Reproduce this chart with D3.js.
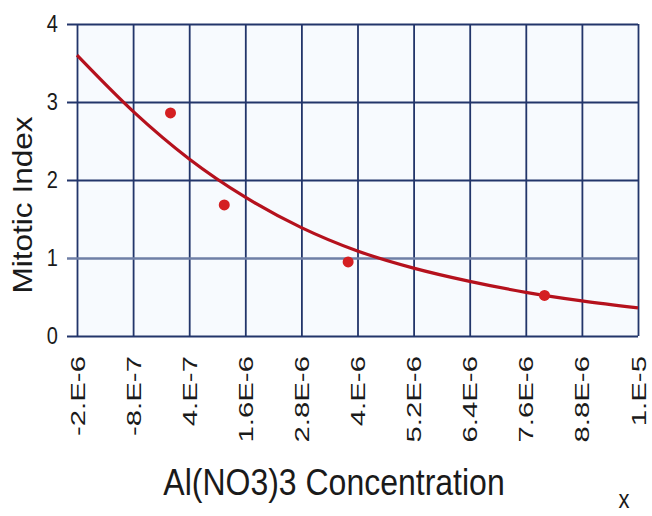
<!DOCTYPE html>
<html>
<head>
<meta charset="utf-8">
<script src="https://cdn.jsdelivr.net/npm/d3@7"></script>
<style>
  body { margin: 0; background: #fff; }
  text { font-family: "Liberation Sans", Arial, sans-serif; fill: #1a1a1a; }
</style>
</head>
<body>
<script>
const width = 652;
const height = 516;

// axis ticks
const xTicks = [-2e-6, -8e-7, 4e-7, 1.6e-6, 2.8e-6, 4e-6, 5.2e-6, 6.4e-6, 7.6e-6, 8.8e-6, 1e-5];
const xTickLabels = ['-2.E-6', '-8.E-7', '4.E-7', '1.6E-6', '2.8E-6', '4.E-6', '5.2E-6', '6.4E-6', '7.6E-6', '8.8E-6', '1.E-5'];
const yTicks = [0, 1, 2, 3, 4];

// measured points
const concentration = [0, 1.15e-6, 3.8e-6, 8e-6];
const mitoticIndex = [2.86, 1.68, 0.95, 0.52];

// trend line, read at each grid line
const fitX = xTicks;
const fitY = [3.60, 2.88, 2.27, 1.78, 1.39, 1.09, 0.87, 0.70, 0.56, 0.45, 0.36];

const plotL = 77, plotR = 638, plotT = 24, plotB = 336;

const svg = d3.select('body')
  .append('svg')
  .attr('width', width)
  .attr('height', height);

const x = d3.scaleLinear().domain([-2e-6, 1e-5]).range([plotL, plotR]);
const y = d3.scaleLinear().domain([0, 4]).range([plotB, plotT]);

// plot background
svg.append('rect')
  .attr('x', plotL)
  .attr('y', plotT)
  .attr('width', plotR - plotL)
  .attr('height', plotB - plotT)
  .attr('fill', '#f7fafe');

// vertical grid
svg.append('g')
  .attr('transform', `translate(0,${plotB})`)
  .call(d3.axisBottom(x).tickValues(xTicks).tickSize(-(plotB - plotT)).tickFormat(''))
  .call(g => g.select('.domain').remove())
  .call(g => g.selectAll('line').attr('stroke', '#22356a').attr('stroke-width', 1.8));

// horizontal grid, sticking out left as ticks
svg.append('g')
  .attr('transform', `translate(${plotR},0)`)
  .call(d3.axisLeft(y).tickValues(yTicks).tickSize(plotR - plotL + 10).tickFormat(''))
  .call(g => g.select('.domain').remove())
  .call(g => g.selectAll('line')
    .attr('stroke', d => d === 1 ? '#6f7fa6' : '#22356a')
    .attr('stroke-width', d => d === 1 ? 2.6 : 1.8));

// y tick labels
svg.append('g')
  .selectAll('text')
  .data(yTicks)
  .enter()
  .append('text')
  .attr('transform', d => `translate(58,${y(d)}) scale(1,1.17)`)
  .attr('dy', '0.36em')
  .attr('text-anchor', 'end')
  .attr('font-size', 20)
  .text(d => d);

// x tick labels (rotated)
svg.append('g')
  .selectAll('text')
  .data(xTicks)
  .enter()
  .append('text')
  .attr('transform', d => `translate(${x(d)},356) rotate(-90) scale(1.4,1)`)
  .attr('dy', '0.36em')
  .attr('text-anchor', 'end')
  .attr('font-size', 21)
  .text((d, i) => xTickLabels[i]);

// trend line
const line = d3.line()
  .x(d => x(d[0]))
  .y(d => y(d[1]))
  .curve(d3.curveMonotoneX);

svg.append('path')
  .datum(fitX.map((d, i) => [d, fitY[i]]))
  .attr('d', line)
  .attr('fill', 'none')
  .attr('stroke', '#b5111d')
  .attr('stroke-width', 3.2);

// points
svg.append('g')
  .selectAll('circle')
  .data(concentration)
  .enter()
  .append('circle')
  .attr('cx', d => x(d))
  .attr('cy', (d, i) => y(mitoticIndex[i]))
  .attr('r', 5.5)
  .attr('fill', '#d41f22');

// axis titles
svg.append('text')
  .attr('transform', 'translate(334,495) scale(1,1.17)')
  .attr('text-anchor', 'middle')
  .attr('font-size', 32)
  .text('Al(NO3)3 Concentration');

svg.append('text')
  .attr('transform', 'translate(22,205) rotate(-90) scale(1.17,1)')
  .attr('dy', '0.36em')
  .attr('text-anchor', 'middle')
  .attr('font-size', 27)
  .text('Mitotic Index');

svg.append('text')
  .attr('transform', 'translate(624,508) scale(1,1.15)')
  .attr('text-anchor', 'middle')
  .attr('font-size', 22)
  .attr('fill', '#444')
  .text('x');
</script>
</body>
</html>
